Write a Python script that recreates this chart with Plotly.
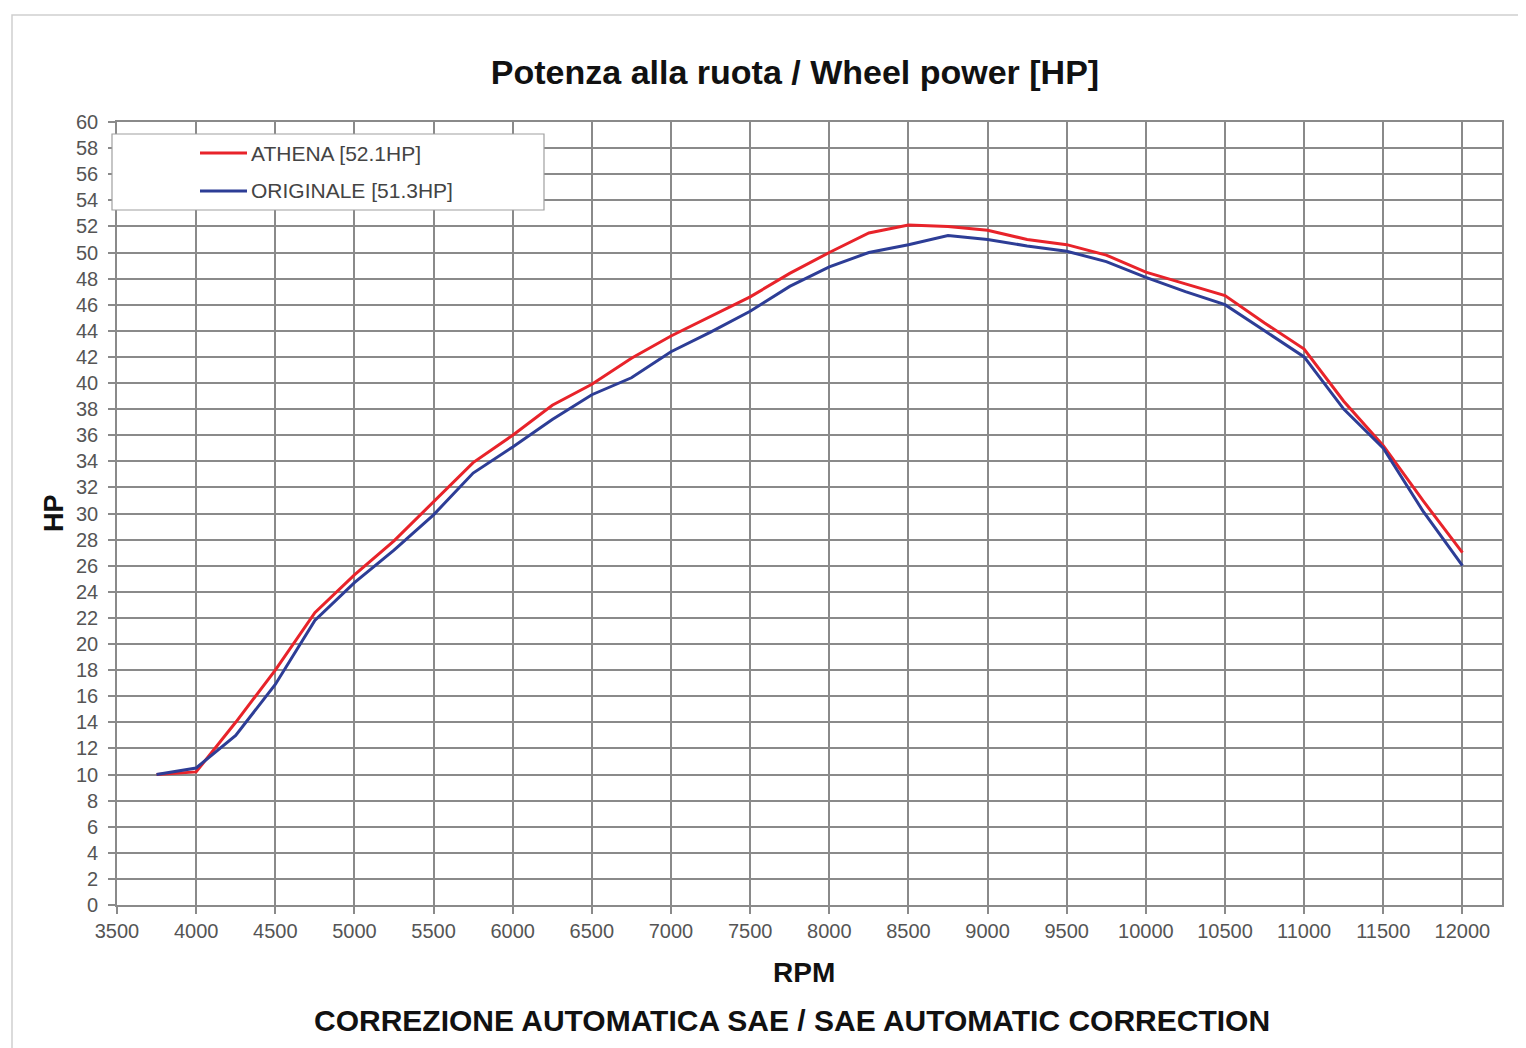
import plotly.graph_objects as go

# ---------------- data ----------------
rpm = [3750, 4000, 4250, 4500, 4750, 5000, 5250, 5500, 5750, 6000, 6250, 6500,
       6750, 7000, 7250, 7500, 7750, 8000, 8250, 8500, 8750, 9000, 9250, 9500,
       9750, 10000, 10250, 10500, 10750, 11000, 11250, 11500, 11750, 12000]

athena = [10.0, 10.2, 14.0, 18.0, 22.4, 25.3, 27.9, 30.9, 33.9, 36.0, 38.3, 39.9,
          41.9, 43.6, 45.1, 46.6, 48.4, 50.0, 51.5, 52.1, 52.0, 51.7, 51.0, 50.6,
          49.8, 48.5, 47.6, 46.7, 44.6, 42.6, 38.6, 35.2, 31.0, 27.0]

originale = [10.0, 10.5, 13.0, 16.9, 21.8, 24.7, 27.2, 29.9, 33.1, 35.1, 37.2, 39.1,
             40.4, 42.4, 43.9, 45.5, 47.4, 48.9, 50.0, 50.6, 51.3, 51.0, 50.5, 50.1,
             49.3, 48.1, 47.0, 46.0, 44.0, 42.0, 38.0, 35.0, 30.2, 26.0]

series_names = ["ATHENA [52.1HP]", "ORIGINALE [51.3HP]"]
series_colors = ["#e8232a", "#2d3d96"]

x_ticks = [3500, 4000, 4500, 5000, 5500, 6000, 6500, 7000, 7500, 8000, 8500,
           9000, 9500, 10000, 10500, 11000, 11500, 12000]
y_ticks = list(range(0, 61, 2))

title_text = "Potenza alla ruota / Wheel power [HP]"
x_title = "RPM"
y_title = "HP"
footer_text = "CORREZIONE AUTOMATICA SAE / SAE AUTOMATIC CORRECTION"

# ---------------- layout constants ----------------
OFF = 8  # page body margin of the browser
WIN_W, WIN_H = 1526, 1048
W, H = WIN_W - OFF, WIN_H - OFF
# plot area in window pixels
PX0, PX1, PY0, PY1 = 117, 1502, 122, 905
ML = PX0 - OFF
MT = PY0 - OFF
MR = W - (PX1 - OFF)
MB = H - (PY1 - OFF)
PW = PX1 - PX0
PH = PY1 - PY0
FONT = "Liberation Sans, Arial, sans-serif"
GRID = "#8a8a8a"


def px_to_paper_x(px):
    return (px - PX0) / PW


def px_to_paper_y(py):
    return (PY1 - py) / PH


fig = go.Figure()
for name, vals, col in zip(series_names, [athena, originale], series_colors):
    fig.add_trace(go.Scatter(
        x=rpm, y=vals, mode="lines", name=name,
        line=dict(color=col, width=3),
        showlegend=False,
    ))

shapes = []
annotations = []

# outer light frame of the original picture
shapes.append(dict(type="rect", xref="paper", yref="paper",
                   x0=px_to_paper_x(12), x1=px_to_paper_x(WIN_W + 20),
                   y0=px_to_paper_y(WIN_H + 20), y1=px_to_paper_y(15),
                   line=dict(color="#cfcfcf", width=1.5), fillcolor="rgba(0,0,0,0)",
                   layer="below"))

# legend box (manual, to match the original placement)
lx0, lx1, ly0, ly1 = 112, 544, 134, 210
shapes.append(dict(type="rect", xref="paper", yref="paper",
                   x0=px_to_paper_x(lx0), x1=px_to_paper_x(lx1),
                   y0=px_to_paper_y(ly1), y1=px_to_paper_y(ly0),
                   line=dict(color="#a0a0a0", width=1.2), fillcolor="white",
                   layer="above"))
for i, (name, col) in enumerate(zip(series_names, series_colors)):
    yy = 153 + i * 38
    shapes.append(dict(type="line", xref="paper", yref="paper",
                       x0=px_to_paper_x(200), x1=px_to_paper_x(247),
                       y0=px_to_paper_y(yy), y1=px_to_paper_y(yy),
                       line=dict(color=col, width=3), layer="above"))
    annotations.append(dict(xref="paper", yref="paper",
                            x=px_to_paper_x(249), y=px_to_paper_y(yy),
                            xanchor="left", yanchor="middle", showarrow=False,
                            text=name, font=dict(family=FONT, size=21, color="#444")))

# axis titles and footer as annotations for precise placement
annotations.append(dict(xref="paper", yref="paper",
                        x=px_to_paper_x(804), y=px_to_paper_y(972),
                        xanchor="center", yanchor="middle", showarrow=False,
                        text="<b>%s</b>" % x_title,
                        font=dict(family=FONT, size=28, color="#111")))
annotations.append(dict(xref="paper", yref="paper",
                        x=px_to_paper_x(54), y=px_to_paper_y(513),
                        xanchor="center", yanchor="middle", showarrow=False,
                        textangle=-90,
                        text="<b>%s</b>" % y_title,
                        font=dict(family=FONT, size=27, color="#111")))
annotations.append(dict(xref="paper", yref="paper",
                        x=px_to_paper_x(792), y=px_to_paper_y(1020),
                        xanchor="center", yanchor="middle", showarrow=False,
                        text="<b>%s</b>" % footer_text,
                        font=dict(family=FONT, size=30, color="#111")))

fig.update_layout(
    width=W, height=H,
    margin=dict(l=ML, r=MR, t=MT, b=MB, autoexpand=False),
    paper_bgcolor="white", plot_bgcolor="white",
    title=dict(text="<b>%s</b>" % title_text, x=(795 - OFF) / W, y=1 - (72 - OFF) / H,
               xref="container", yref="container",
               xanchor="center", yanchor="middle",
               font=dict(family=FONT, size=34, color="#111")),
    shapes=shapes, annotations=annotations,
    showlegend=False,
)

fig.update_xaxes(
    range=[3500, 12250], tickmode="array", tickvals=x_ticks,
    ticktext=[str(v) for v in x_ticks],
    showgrid=True, gridcolor=GRID, gridwidth=1.6,
    showline=True, linecolor=GRID, linewidth=1.6, mirror=True,
    ticks="outside", ticklen=7, tickcolor=GRID, tickwidth=1.6,
    tickfont=dict(family=FONT, size=20, color="#555"),
    zeroline=False, automargin=False,
)
fig.update_yaxes(
    range=[0, 60], tickmode="array", tickvals=y_ticks,
    ticktext=[str(v) for v in y_ticks],
    showgrid=True, gridcolor=GRID, gridwidth=1.6,
    showline=True, linecolor=GRID, linewidth=1.6, mirror=True,
    ticks="outside", ticklen=7, tickcolor=GRID, tickwidth=1.6,
    ticklabelstandoff=6,
    tickfont=dict(family=FONT, size=20, color="#555"),
    zeroline=False, automargin=False,
)

fig.write_html("out.html")
